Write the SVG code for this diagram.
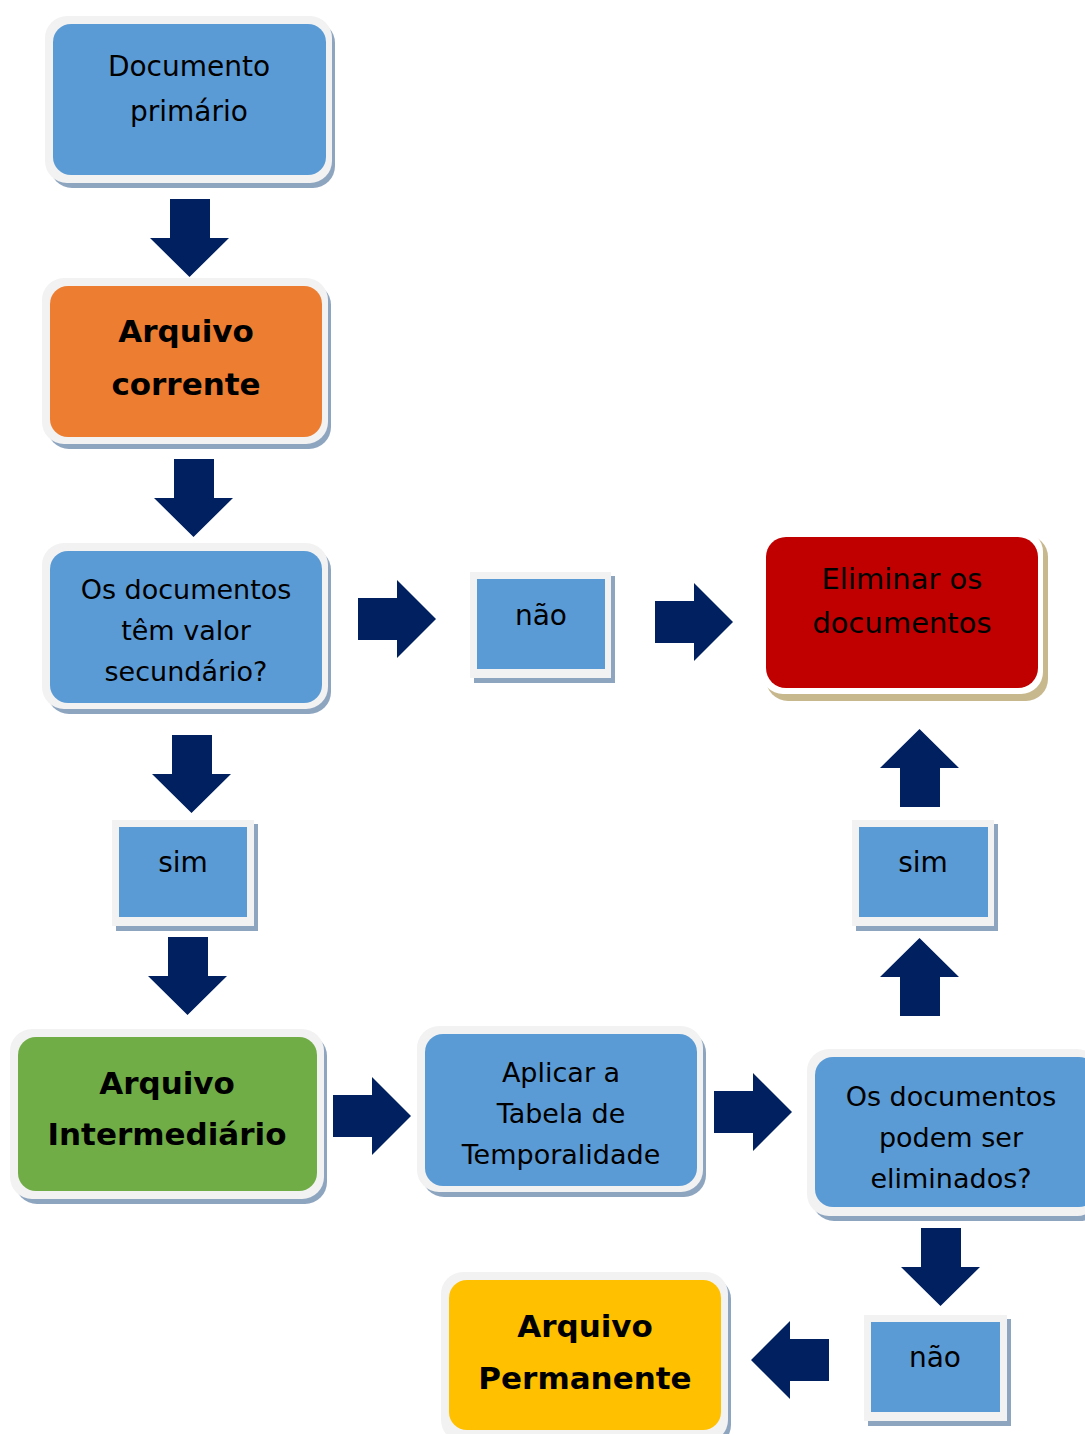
<svg xmlns="http://www.w3.org/2000/svg" width="1085" height="1434" viewBox="0 0 1085 1434">
<defs>
<style>
.bd{fill:#f2f2f2}
.sh{fill:#8ea5c0}
.shr{fill:#c7b88e}
.blue{fill:#5b9bd5}
.t{font-family:"Comic Sans MS","DejaVu Sans",sans-serif;font-size:27px;fill:#000;text-anchor:middle}
.t28{font-size:28px}
.t29{font-size:29px}
.b{font-family:"Comic Sans MS","DejaVu Sans",sans-serif;font-size:31px;font-weight:bold;fill:#000;text-anchor:middle}
.ar{fill:#002060}
</style>
<path id="ad" d="M20 0 H60 V39 H79 L39.5 78 L0 39 H20 Z"/>
<path id="arr" d="M0 18 H39 V0 L78 39 L39 78 V60 H0 Z"/>
<path id="au" d="M20 78 H60 V39 H79 L39.5 0 L0 39 H20 Z"/>
<path id="al" d="M78 18 H39 V0 L0 39 L39 78 V60 H78 Z"/>
</defs>
<rect width="1085" height="1434" fill="#fff"/>

<g id="connectors" class="ar">
<use href="#ad" x="150" y="199"/>
<use href="#ad" x="154" y="459"/>
<use href="#arr" x="358" y="580"/>
<use href="#arr" x="655" y="583"/>
<use href="#ad" x="152" y="735"/>
<use href="#ad" x="148" y="937"/>
<use href="#arr" x="333" y="1077"/>
<use href="#arr" x="714" y="1073"/>
<use href="#au" x="880" y="938"/>
<use href="#au" x="880" y="729"/>
<use href="#ad" x="901" y="1228"/>
<use href="#al" x="751" y="1321"/>
</g>

<g id="n-doc">
<rect class="sh" x="50" y="21" width="285" height="167" rx="22"/>
<rect class="bd" x="45" y="16" width="287" height="167" rx="22"/>
<rect class="blue" x="53" y="24" width="273" height="151" rx="18"/>
<text class="t t28" x="189" y="76">Documento</text>
<text class="t t28" x="189" y="121">primário</text>
</g>

<g id="n-corrente">
<rect class="sh" x="47" y="283" width="284" height="166" rx="22"/>
<rect class="bd" x="42" y="278" width="286" height="166" rx="22"/>
<rect fill="#ed7d31" x="50" y="286" width="272" height="151" rx="18"/>
<text class="b" x="186" y="342">Arquivo</text>
<text class="b" x="186" y="395">corrente</text>
</g>

<g id="n-valor">
<rect class="sh" x="47" y="548" width="284" height="166" rx="22"/>
<rect class="bd" x="42" y="543" width="286" height="166" rx="22"/>
<rect class="blue" x="50" y="551" width="272" height="152" rx="18"/>
<text class="t" x="186" y="599">Os documentos</text>
<text class="t" x="186" y="640">têm valor</text>
<text class="t" x="186" y="681">secundário?</text>
</g>

<g id="n-nao1">
<rect class="sh" x="474" y="576" width="141" height="107"/>
<rect class="bd" x="470" y="572" width="141" height="106"/>
<rect class="blue" x="477" y="579" width="128" height="90"/>
<text class="t t28" x="541" y="625">não</text>
</g>

<g id="n-eliminar">
<rect class="shr" x="766" y="535" width="282" height="166" rx="22"/>
<rect fill="#fff" x="761" y="530" width="282" height="164" rx="22"/>
<rect fill="#c00000" x="766" y="537" width="272" height="151" rx="20"/>
<text class="t t29" x="902" y="589">Eliminar os</text>
<text class="t t29" x="902" y="633">documentos</text>
</g>

<g id="n-sim1">
<rect class="sh" x="116" y="824" width="142" height="107"/>
<rect class="bd" x="112" y="820" width="142" height="106"/>
<rect class="blue" x="119" y="827" width="128" height="90"/>
<text class="t t28" x="183" y="872">sim</text>
</g>

<g id="n-intermediario">
<rect class="sh" x="15" y="1034" width="312" height="170" rx="22"/>
<rect class="bd" x="10" y="1029" width="314" height="170" rx="22"/>
<rect fill="#70ad47" x="18" y="1037" width="299" height="154" rx="18"/>
<text class="b" x="167" y="1094">Arquivo</text>
<text class="b" x="167" y="1145">Intermediário</text>
</g>

<g id="n-tabela">
<rect class="sh" x="422" y="1031" width="284" height="166" rx="22"/>
<rect class="bd" x="417" y="1026" width="286" height="166" rx="22"/>
<rect class="blue" x="425" y="1034" width="272" height="152" rx="18"/>
<text class="t" x="561" y="1082">Aplicar a</text>
<text class="t" x="561" y="1123">Tabela de</text>
<text class="t" x="561" y="1164">Temporalidade</text>
</g>

<g id="n-podem">
<rect class="sh" x="812" y="1054" width="290" height="167" rx="22"/>
<rect class="bd" x="807" y="1049" width="292" height="167" rx="22"/>
<rect class="blue" x="815" y="1057" width="282" height="150" rx="18"/>
<text class="t" x="951" y="1106">Os documentos</text>
<text class="t" x="951" y="1147">podem ser</text>
<text class="t" x="951" y="1188">eliminados?</text>
</g>

<g id="n-sim2">
<rect class="sh" x="856" y="824" width="142" height="107"/>
<rect class="bd" x="852" y="820" width="142" height="106"/>
<rect class="blue" x="859" y="827" width="129" height="90"/>
<text class="t t28" x="923" y="872">sim</text>
</g>

<g id="n-nao2">
<rect class="sh" x="868" y="1319" width="143" height="107"/>
<rect class="bd" x="864" y="1315" width="143" height="106"/>
<rect class="blue" x="871" y="1322" width="129" height="90"/>
<text class="t t28" x="935" y="1367">não</text>
</g>

<g id="n-permanente">
<rect class="sh" x="446" y="1277" width="285" height="170" rx="22"/>
<rect class="bd" x="441" y="1272" width="287" height="170" rx="22"/>
<rect fill="#ffc000" x="449" y="1280" width="272" height="150" rx="18"/>
<text class="b" x="585" y="1337">Arquivo</text>
<text class="b" x="585" y="1389">Permanente</text>
</g>
</svg>
